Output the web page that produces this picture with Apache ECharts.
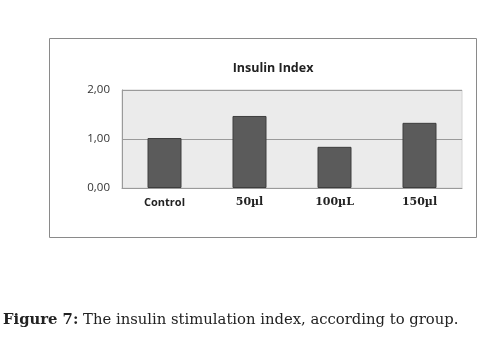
<!DOCTYPE html>
<html>
<head>
<meta charset="utf-8">
<script src="https://cdn.jsdelivr.net/npm/echarts@6/dist/echarts.min.js"></script>
<style>
  html, body { margin: 0; padding: 0; background: #fff; }
  #chart { width: 500px; height: 343px; }
</style>
</head>
<body>
<div id="chart"></div>
<script>
const groups = ['Control', '50µl', '100µL', '150µl']
const insulinIndex = [1.02, 1.47, 0.84, 1.33]
const yTicks = [0, 1, 2]

const chart = echarts.init(document.getElementById('chart'))

const serifLabel = { fontFamily: 'DejaVu Serif', fontWeight: 'bold', fontSize: 11, color: '#222' }

chart.setOption({
  backgroundColor: '#fff',
  animation: false,
  title: [
    {
      text: 'Insulin Index',
      left: 268,
      textAlign: 'center',
      top: 57,
      textStyle: { fontFamily: 'Open Sans', fontWeight: 'bold', fontSize: 12.5, color: '#222' },
    },
    {
      text: '{b|Figure 7:} The insulin stimulation index, according to group.',
      left: -2,
      top: 308,
      textStyle: {
        fontFamily: 'DejaVu Serif',
        fontWeight: 'normal',
        fontSize: 14.8,
        color: '#222',
        rich: {
          b: { fontFamily: 'DejaVu Serif', fontWeight: 'bold', fontSize: 14.8, color: '#222' },
        },
      },
    },
  ],
  graphic: [
    {
      type: 'rect',
      shape: { x: 49.5, y: 38.5, width: 427, height: 199 },
      style: { fill: 'none', stroke: '#8a8a8a', lineWidth: 1 },
      z: -1,
    },
  ],
  grid: {
    left: 122,
    right: 38,
    top: 90,
    bottom: 155,
    show: true,
    backgroundColor: '#ebebeb',
    borderColor: '#d4d4d4',
    borderWidth: 1,
  },
  xAxis: {
    type: 'category',
    data: groups,
    axisTick: { show: false },
    axisLine: { lineStyle: { color: '#9a9a9a' } },
    axisLabel: {
      margin: 9,
      formatter: (v) => (v === 'Control' ? '{s|' + v + '}' : '{r|' + v + '}'),
      rich: {
        s: { fontFamily: 'Open Sans', fontWeight: 'bold', fontSize: 11, color: '#222' },
        r: serifLabel,
      },
    },
  },
  yAxis: {
    type: 'value',
    min: yTicks[0],
    max: yTicks[yTicks.length - 1],
    interval: 1,
    axisLine: { show: true, lineStyle: { color: '#9a9a9a' } },
    axisTick: { show: false },
    splitLine: { lineStyle: { color: '#9a9a9a', width: 1 } },
    axisLabel: {
      margin: 12,
      fontFamily: 'Open Sans',
      fontSize: 11.5,
      color: '#333',
      formatter: (v) => v.toFixed(2).replace('.', ','),
    },
  },
  series: [
    {
      type: 'bar',
      data: insulinIndex,
      barWidth: '40%',
      itemStyle: { color: '#5b5b5b', borderColor: '#3e3e3e', borderWidth: 1 },
    },
  ],
})
</script>
</body>
</html>
